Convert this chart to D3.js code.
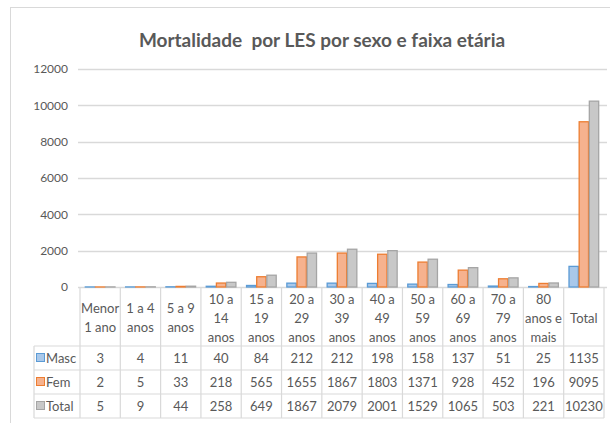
<!DOCTYPE html>
<meta charset="utf-8">
<style>
body { margin: 0; background: #fff; }
text { font-family: Lato, "Open Sans", sans-serif; fill: #595959; }
</style>
<body>
<script src="https://d3js.org/d3.v7.min.js"></script>
<script>

// categories (line breaks as in the table header)
var categories = ["Menor\n1 ano", "1 a 4\nanos", "5 a 9\nanos", "10 a\n14\nanos", "15 a\n19\nanos",
  "20 a\n29\nanos", "30 a\n39\nanos", "40 a\n49\nanos", "50 a\n59\nanos", "60 a\n69\nanos",
  "70 a\n79\nanos", "80\nanos e\nmais", "Total"];
var seriesNames = ["Masc", "Fem", "Total"];
var masc  = [3, 4, 11, 40, 84, 212, 212, 198, 158, 137, 51, 25, 1135];
var fem   = [2, 5, 33, 218, 565, 1655, 1867, 1803, 1371, 928, 452, 196, 9095];
var total = [5, 9, 44, 258, 649, 1867, 2079, 2001, 1529, 1065, 503, 221, 10230];
var yTicks = [0, 2000, 4000, 6000, 8000, 10000, 12000];

var series = [masc, fem, total];
var fills   = ["#a9c8ea", "#f6b28e", "#c8c8c8"];
var strokes = ["#5b9bd5", "#ed7d31", "#a5a5a5"];

var W = 610, H = 423;
var plotLeft = 80, plotRight = 604, plotTop = 69, base = 287;
var rowH = 24, headerH = 59, legendLeft = 34;

var svg = d3.select("body").append("svg")
    .attr("width", W)
    .attr("height", H);

// chart border
svg.append("rect")
    .attr("x", 10.5).attr("y", 7.5)
    .attr("width", W + 10).attr("height", H + 10)
    .attr("fill", "none").attr("stroke", "#d9d9d9");

// title
svg.append("text")
    .attr("x", 322).attr("y", 47)
    .attr("text-anchor", "middle")
    .style("font-size", "19px")
    .style("font-weight", "bold")
    .style("white-space", "pre")
    .text("Mortalidade  por LES por sexo e faixa etária");

var x0 = d3.scaleBand().domain(d3.range(categories.length)).range([plotLeft, plotRight]);
var x1 = d3.scaleBand().domain(d3.range(series.length)).range([4.5, x0.bandwidth() - 4.5]).padding(0.08);
var y = d3.scaleLinear().domain([0, 12000]).range([base, plotTop]);

// gridlines
svg.append("g").selectAll("line")
  .data(yTicks)
  .join("line")
    .attr("x1", plotLeft - 2).attr("x2", 607)
    .attr("y1", function(d) { return Math.round(y(d)) + 0.5; })
    .attr("y2", function(d) { return Math.round(y(d)) + 0.5; })
    .attr("stroke", "#d9d9d9").attr("stroke-width", 1.5);

// y axis labels
var yAxis = svg.append("g")
    .attr("transform", "translate(" + plotLeft + ",0)")
    .call(d3.axisLeft(y).tickValues(yTicks).tickFormat(d3.format("d")).tickSize(0).tickPadding(12));
yAxis.select(".domain").remove();
yAxis.selectAll("text")
    .style("font-size", "12px")
    .style("font-family", "Lato, sans-serif")
    .attr("fill", "#595959");

// bars
series.forEach(function(vals, s) {
  svg.append("g").selectAll("rect")
    .data(vals)
    .join("rect")
      .attr("x", function(d, i) { return x0(i) + x1(s); })
      .attr("y", function(d) { return y(d); })
      .attr("width", x1.bandwidth())
      .attr("height", function(d) { return base - y(d); })
      .attr("fill", fills[s])
      .attr("stroke", strokes[s])
      .attr("stroke-width", 1.3);
});

// data table
var tbl = svg.append("g").attr("stroke", "#d9d9d9").attr("stroke-width", 1.2);
var tableBottom = base + headerH + rowH * 3;
// vertical lines
d3.range(categories.length + 1).forEach(function(i) {
  var xx = i < categories.length ? x0(i) : plotRight;
  tbl.append("line").attr("x1", xx).attr("x2", xx)
    .attr("y1", base).attr("y2", tableBottom);
});
tbl.append("line").attr("x1", legendLeft).attr("x2", legendLeft)
  .attr("y1", base + headerH).attr("y2", tableBottom);
// horizontal lines
d3.range(4).forEach(function(r) {
  var yy = base + headerH + r * rowH;
  tbl.append("line").attr("x1", legendLeft).attr("x2", plotRight)
    .attr("y1", yy).attr("y2", yy);
});

// header labels
categories.forEach(function(c, i) {
  var lines = c.split("\n");
  var lh = 19;
  var cy = base + headerH / 2 + 1;
  var t = svg.append("text")
      .attr("text-anchor", "middle")
      .style("font-size", "13px");
  lines.forEach(function(l, k) {
    t.append("tspan")
      .attr("x", x0(i) + x0.bandwidth() / 2)
      .attr("y", cy + (k - (lines.length - 1) / 2) * lh + 5)
      .text(l);
  });
});

// rows
series.forEach(function(vals, s) {
  var ry = base + headerH + s * rowH;
  svg.append("rect")
    .attr("x", 36.5).attr("y", ry + 7.5)
    .attr("width", 8).attr("height", 8)
    .attr("fill", fills[s]).attr("stroke", strokes[s]);
  svg.append("text")
    .attr("x", 46).attr("y", ry + 17)
    .style("font-size", "13px")
    .text(seriesNames[s]);
  svg.append("g").selectAll("text")
    .data(vals)
    .join("text")
      .attr("x", function(d, i) { return x0(i) + x0.bandwidth() / 2; })
      .attr("y", ry + 17)
      .attr("text-anchor", "middle")
      .style("font-size", "13px")
      .text(function(d) { return d; });
});

</script>
</body>
